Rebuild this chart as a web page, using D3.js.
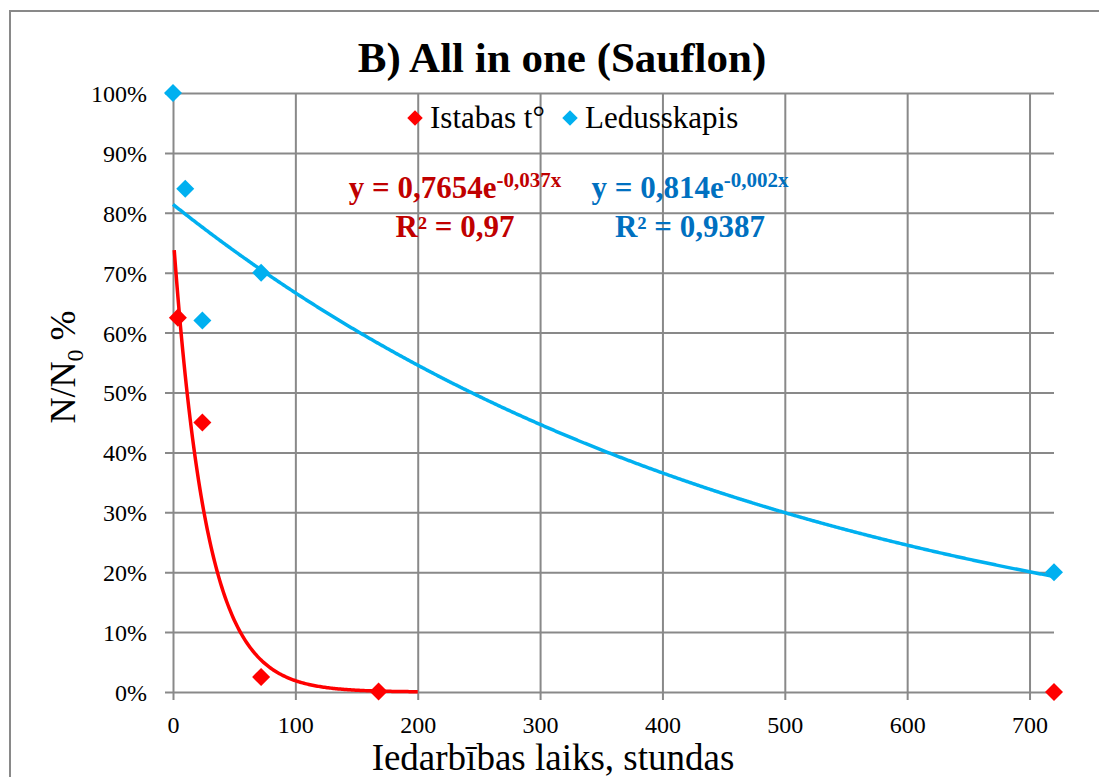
<!DOCTYPE html>
<html>
<head>
<meta charset="utf-8">
<script src="https://cdn.jsdelivr.net/npm/d3@7"></script>
<style>
  body { margin: 0; background: #fff; }
  svg { display: block; font-family: "Liberation Serif", "Times New Roman", serif; }
  svg text { font-family: "Liberation Serif", "Times New Roman", serif; }
</style>
</head>
<body>
<div class="chart"></div>
<script>
// series (x = hours, y = N/N0)
const istabasX = [4, 24, 72, 168, 720];
const istabasY = [0.625, 0.45, 0.025, 0.001, 0];
const ledusX = [0, 10, 24, 72, 720];
const ledusY = [1.0, 0.84, 0.62, 0.70, 0.20];

// exponential trendlines y = a*e^(b*x), as printed on the chart
const istabasTrend = [0.7654, -0.037];
const istabasTrendRange = [1, 200];
const ledusTrend = [0.814, -0.002];
const ledusTrendRange = [0, 720];

const xTicks = [0, 100, 200, 300, 400, 500, 600, 700];
const yTicks = [0, 0.1, 0.2, 0.3, 0.4, 0.5, 0.6, 0.7, 0.8, 0.9, 1.0];
const seriesNames = ["Istabas t°", "Ledusskapis"];

const W = 1099, H = 777;
const plot = {left: 173, right: 1054, top: 93, bottom: 692};
const gridColor = "#898989";
const red = "#FF0000", blue = "#00B0F0";

const svg = d3.select(".chart")
  .append("svg")
  .attr("width", W)
  .attr("height", H);

// chart border
svg.append("rect")
  .attr("x", 10).attr("y", 11)
  .attr("width", 1100).attr("height", 800)
  .attr("fill", "none")
  .attr("stroke", gridColor)
  .attr("stroke-width", 2);

const x = d3.scaleLinear().domain([0, 720]).range([plot.left, plot.right]);
const y = d3.scaleLinear().domain([0, 1]).range([plot.bottom, plot.top]);

// y axis + horizontal gridlines
const yAxis = svg.append("g")
  .attr("transform", `translate(${plot.left},0)`)
  .call(d3.axisLeft(y).tickValues(yTicks).tickFormat(d3.format(".0%")).tickSize(8));
yAxis.attr("font-family", null).attr("font-size", null);
yAxis.select(".domain").remove();
yAxis.selectAll(".tick line")
  .attr("x1", -8).attr("x2", plot.right - plot.left)
  .attr("stroke", gridColor).attr("stroke-width", 2);
yAxis.selectAll(".tick text")
  .attr("x", -26).attr("dy", "0.35em")
  .style("font-size", "24px").attr("fill", "#000");

// x axis + vertical gridlines
const xAxis = svg.append("g")
  .attr("transform", `translate(0,${plot.bottom})`)
  .call(d3.axisBottom(x).tickValues(xTicks).tickSize(8));
xAxis.attr("font-family", null).attr("font-size", null);
xAxis.select(".domain").remove();
xAxis.selectAll(".tick line")
  .attr("y1", 8).attr("y2", plot.top - plot.bottom)
  .attr("stroke", gridColor).attr("stroke-width", 2);
xAxis.selectAll(".tick text")
  .attr("y", 24).attr("dy", "0.71em")
  .style("font-size", "24px").attr("fill", "#000");

// trendlines
function trendPoints(coef, range) {
  const xs = d3.range(range[0], range[1], 1).concat([range[1]]);
  return xs.map(v => [v, coef[0] * Math.exp(coef[1] * v)]);
}
const line = d3.line().x(d => x(d[0])).y(d => y(d[1]));

svg.append("path")
  .datum(trendPoints(ledusTrend, ledusTrendRange))
  .attr("d", line)
  .attr("fill", "none").attr("stroke", blue).attr("stroke-width", 3.5);
svg.append("path")
  .datum(trendPoints(istabasTrend, istabasTrendRange))
  .attr("d", line)
  .attr("fill", "none").attr("stroke", red).attr("stroke-width", 3.5);

// diamond markers
const diamond = d3.symbol().type(d3.symbolSquare).size(162);
function drawMarkers(xs, ys, color) {
  svg.append("g")
    .selectAll("path")
    .data(xs.map((v, i) => [v, ys[i]]))
    .join("path")
    .attr("d", diamond)
    .attr("transform", d => `translate(${x(d[0])},${y(d[1])}) rotate(45)`)
    .attr("fill", color);
}
drawMarkers(ledusX, ledusY, blue);
drawMarkers(istabasX, istabasY, red);

// title
svg.append("text")
  .attr("x", 562).attr("y", 72)
  .attr("text-anchor", "middle")
  .attr("font-size", 43).attr("font-weight", "bold")
  .text("B) All in one (Sauflon)");

// legend
const legendX = [415, 570];
const legend = svg.append("g")
  .selectAll("g")
  .data(seriesNames)
  .join("g")
  .attr("transform", (d, i) => `translate(${legendX[i]},118)`);
legend.append("path")
  .attr("d", d3.symbol().type(d3.symbolSquare).size(120))
  .attr("transform", "rotate(45)")
  .attr("fill", (d, i) => [red, blue][i]);
legend.append("text")
  .attr("x", 15).attr("y", 10)
  .attr("font-size", 31)
  .text(d => d);

// trendline equations
function equation(cx, color, coefText, expText, r2Text) {
  const t = svg.append("text")
    .attr("x", cx).attr("y", 198)
    .attr("text-anchor", "middle")
    .attr("font-weight", "bold").attr("fill", color)
    .attr("font-size", 31);
  t.append("tspan").text(`y = ${coefText}e`);
  t.append("tspan").attr("dy", -11).attr("font-size", 21).text(expText);
  svg.append("text")
    .attr("x", cx).attr("y", 237)
    .attr("text-anchor", "middle")
    .attr("font-weight", "bold").attr("fill", color)
    .attr("font-size", 31)
    .text(`R² = ${r2Text}`);
}
equation(455, "#C00000", "0,7654", "-0,037x", "0,97");
equation(690, "#0070C0", "0,814", "-0,002x", "0,9387");

// axis titles
svg.append("text")
  .attr("x", 553).attr("y", 770)
  .attr("text-anchor", "middle")
  .attr("font-size", 37)
  .text("Iedarbības laiks, stundas");

const yTitle = svg.append("text")
  .attr("transform", "translate(75,367) rotate(-90)")
  .attr("text-anchor", "middle")
  .attr("font-size", 36);
yTitle.append("tspan").text("N/N");
yTitle.append("tspan").attr("dy", 8).attr("font-size", 24).text("0");
yTitle.append("tspan").attr("dy", -8).text(" %");
</script>
</body>
</html>
